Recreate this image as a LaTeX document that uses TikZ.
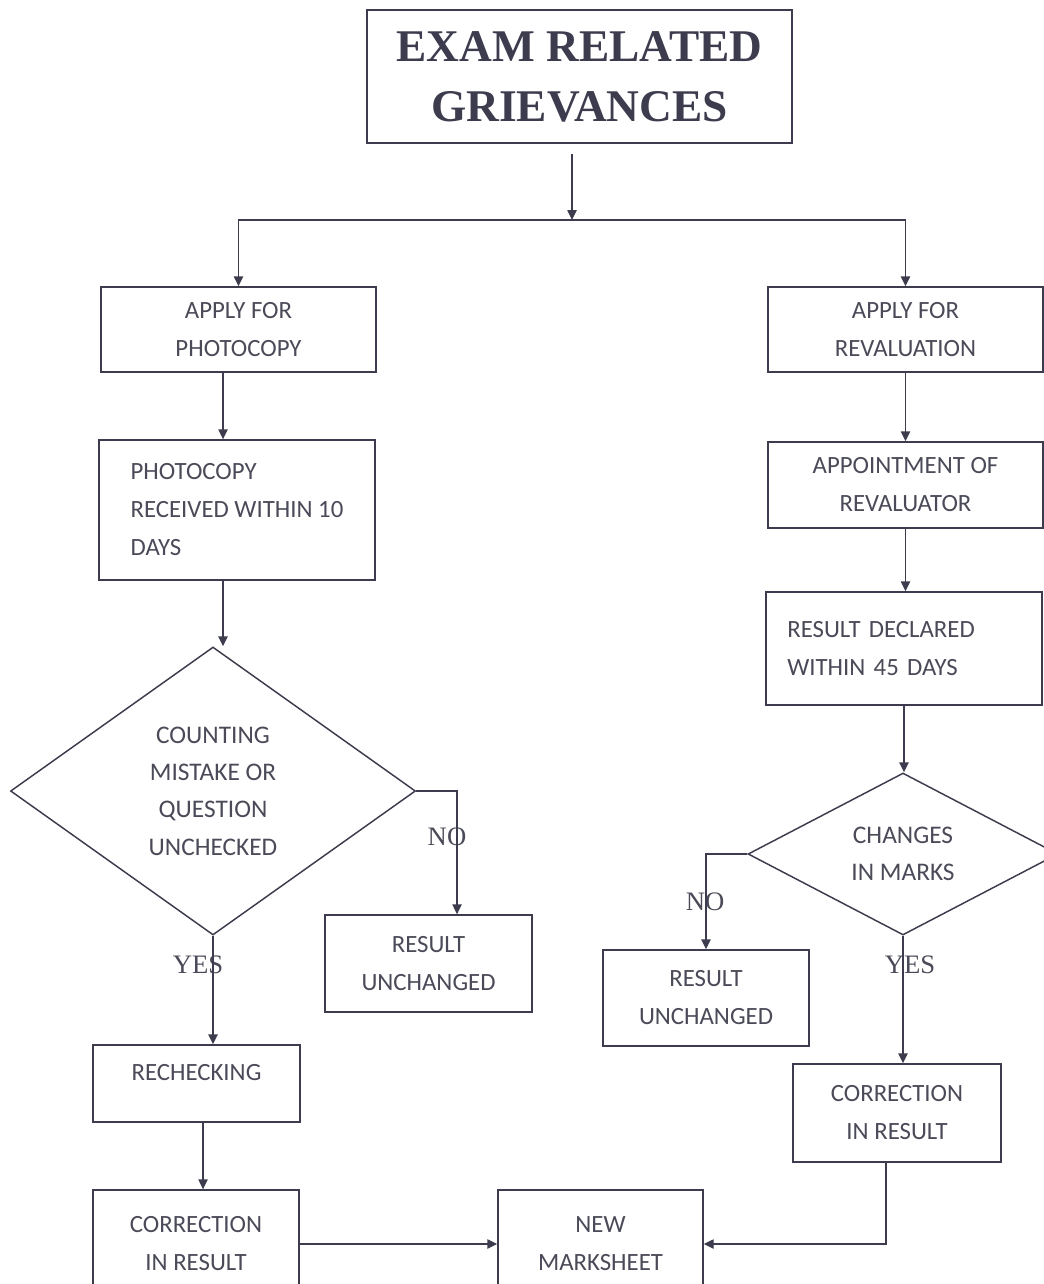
\documentclass[tikz,border=0pt]{standalone}
\usepackage{fontspec}
\setmainfont{Carlito}
\newfontfamily\serifface{Liberation Serif}
\usetikzlibrary{shapes.geometric,arrows.meta}
\definecolor{ln}{HTML}{3C3C4E}
\definecolor{tx}{HTML}{4A4A58}
\begin{document}
\begin{tikzpicture}[x=0.75pt,y=-0.75pt,
  box/.style={draw=ln, line width=1.1pt, rectangle, inner sep=0pt, align=center, text=tx, font=\fontsize{18.6}{28.5}\selectfont},
  dia/.style={draw=ln, line width=1.1pt, diamond, inner sep=0pt, align=center, text=tx, font=\fontsize{19}{28}\selectfont},
  arr/.style={draw=ln, line width=1.1pt, -{Triangle[length=7.5pt,width=7pt]}},
  yn/.style={text=tx, font=\serifface\fontsize{20}{24}\selectfont, inner sep=0pt}]
\fill[white] (0,0) rectangle (1044,1284);
\clip (0,0) rectangle (1044,1284);

\node[box, minimum width=318.75pt, minimum height=99.75pt, text=ln, font=\serifface\bfseries\fontsize{34}{45}\selectfont] (title) at (579.5,76.5) {EXAM RELATED\\GRIEVANCES};

\node[box, minimum width=206.25pt, minimum height=63.75pt] (a1) at (238.5,329.5) {APPLY FOR\\PHOTOCOPY};
\node[box, minimum width=207pt, minimum height=105pt, align=left] (a2) at (237,510) {PHOTOCOPY\\RECEIVED WITHIN 10\\DAYS};
\node[dia, minimum width=303.75pt, minimum height=216pt] (d1) at (213,791) {COUNTING\\MISTAKE OR\\QUESTION\\UNCHECKED};
\node[box, minimum width=155.25pt, minimum height=72.75pt] (r1) at (428.5,963.5) {RESULT\\UNCHANGED};
\node[box, minimum width=155.25pt, minimum height=57.75pt, text height=13pt, text depth=17pt] (rc) at (196.5,1083.5) {RECHECKING};
\node[box, minimum width=154.5pt, minimum height=81pt] (c1) at (196,1244) {CORRECTION\\IN RESULT};
\node[box, minimum width=153.75pt, minimum height=81pt] (nm) at (600.5,1244) {NEW\\MARKSHEET};

\node[box, minimum width=206.25pt, minimum height=63.75pt] (b1) at (905.5,329.5) {APPLY FOR\\REVALUATION};
\node[box, minimum width=206.25pt, minimum height=64.5pt] (b2) at (905.5,485) {APPOINTMENT OF\\REVALUATOR};
\node[box, minimum width=207pt, minimum height=84.75pt, align=left, text width=175pt, inner xsep=16pt] (b3) at (904,648.5) {\mbox{RESULT DECLARED}\\\mbox{WITHIN 45 DAYS}};
\node[dia, minimum width=232.5pt, minimum height=121.5pt] (d2) at (903,854) {CHANGES\\IN MARKS};
\node[box, minimum width=154.5pt, minimum height=72pt] (r2) at (706,998) {RESULT\\UNCHANGED};
\node[box, minimum width=156pt, minimum height=73.5pt] (c2) at (897,1113) {CORRECTION\\IN RESULT};

\node[yn] (no1) at (447,837) {NO};
\node[yn] (yes1) at (198,965) {YES};
\node[yn] (no2) at (705,902) {NO};
\node[yn] (yes2) at (910,965) {YES};

\coordinate (j) at (572,220);
\draw[arr, shorten <=7.5pt] (title.south -| j) -- (j);
\draw[arr] (j) -| (a1.north);
\draw[arr] (j) -| (b1.north);
\draw[arr] ([xshift=-11.6pt]a1.south) -- ([xshift=-11.6pt]a1.south |- a2.north);
\draw[arr] ([xshift=-10.5pt]a2.south) -- ([xshift=-10.5pt]a2.south |- d1.north);
\draw[arr] (d1.east) -| ([xshift=21.4pt]r1.north);
\draw[arr] (d1.south) -- (d1.south |- rc.north);
\draw[arr] ([xshift=4.9pt]rc.south) -- ([xshift=4.9pt]rc.south |- c1.north);
\draw[arr] (c1.east) -- (nm.west);
\draw[arr] (b1.south) -- (b2.north);
\draw[arr] (b2.south) -- (b2.south |- b3.north);
\draw[arr] (b3.south) -- (b3.south |- d2.north);
\draw[arr] (d2.west) -| (r2.north);
\draw[arr] (d2.south) -- (d2.south |- c2.north);
\draw[arr] ([xshift=-8.25pt]c2.south) |- (nm.east);
\end{tikzpicture}
\end{document}
